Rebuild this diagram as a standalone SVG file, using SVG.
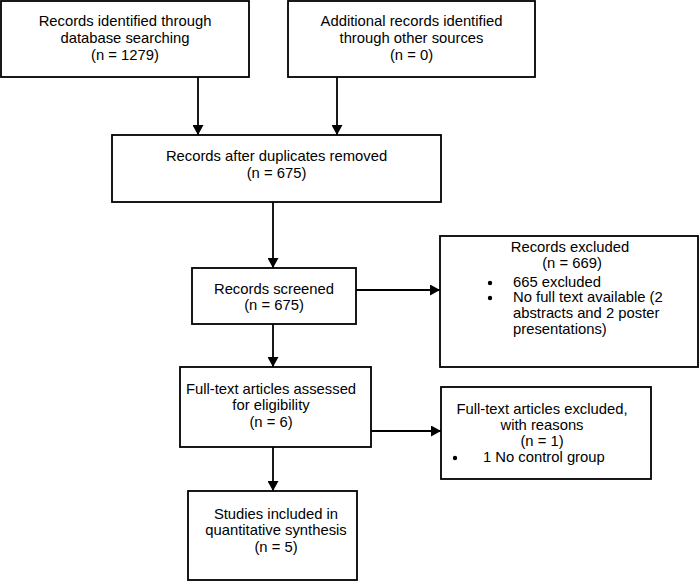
<svg xmlns="http://www.w3.org/2000/svg" width="700" height="582" viewBox="0 0 700 582">
<style>
.box{fill:#fff;stroke:#000;stroke-width:1.8}
text{font-family:"Liberation Sans",Arial,sans-serif;font-size:14.8px;fill:#000}
.c{text-anchor:middle}
.ln{stroke:#000;stroke-width:1.8;fill:none}
</style>
<defs>
<marker id="ah" markerWidth="10" markerHeight="11" refX="10" refY="5.5" orient="auto" markerUnits="userSpaceOnUse">
<path d="M0,0 L10,5.5 L0,11 Z" fill="#000"/>
</marker>
</defs>
<rect width="700" height="582" fill="#fff"/>
<g id="connectors">
<line class="ln" x1="198" y1="77" x2="198" y2="135" marker-end="url(#ah)"/>
<line class="ln" x1="337" y1="77" x2="337" y2="135" marker-end="url(#ah)"/>
<line class="ln" x1="273" y1="202" x2="273" y2="268" marker-end="url(#ah)"/>
<line class="ln" x1="356" y1="290" x2="440" y2="290" marker-end="url(#ah)"/>
<line class="ln" x1="273" y1="324" x2="273" y2="367" marker-end="url(#ah)"/>
<line class="ln" x1="371" y1="431" x2="441" y2="431" marker-end="url(#ah)"/>
<line class="ln" x1="273" y1="447" x2="273" y2="491" marker-end="url(#ah)"/>
</g>
<g id="n1">
<rect class="box" x="1" y="1" width="248" height="76"/>
<text class="c" x="125" y="26">Records identified through</text>
<text class="c" x="125" y="43">database searching</text>
<text class="c" x="125" y="60">(n = 1279)</text>
</g>
<g id="n2">
<rect class="box" x="288" y="1" width="247" height="76"/>
<text class="c" x="411.5" y="26">Additional records identified</text>
<text class="c" x="411.5" y="43">through other sources</text>
<text class="c" x="411.5" y="60">(n = 0)</text>
</g>
<g id="n3">
<rect class="box" x="112" y="135" width="329" height="67"/>
<text class="c" x="276.5" y="161">Records after duplicates removed</text>
<text class="c" x="276.5" y="178">(n = 675)</text>
</g>
<g id="n4">
<rect class="box" x="192" y="268" width="164" height="56"/>
<text class="c" x="274" y="294">Records screened</text>
<text class="c" x="274" y="310">(n = 675)</text>
</g>
<g id="n5">
<rect class="box" x="440" y="236" width="258" height="131"/>
<text class="c" x="570" y="252">Records excluded</text>
<text class="c" x="572" y="268">(n = 669)</text>
<circle cx="490" cy="283" r="2.2" fill="#000"/>
<text x="513" y="287">665 excluded</text>
<circle cx="490" cy="298" r="2.2" fill="#000"/>
<text x="513" y="302">No full text available (2</text>
<text x="513" y="318">abstracts and 2 poster</text>
<text x="513" y="334">presentations)</text>
</g>
<g id="n6">
<rect class="box" x="180" y="367" width="191" height="80"/>
<text class="c" x="271" y="394">Full-text articles assessed</text>
<text class="c" x="271" y="410">for eligibility</text>
<text class="c" x="271" y="427">(n = 6)</text>
</g>
<g id="n7">
<rect class="box" x="441" y="387" width="210" height="92"/>
<text class="c" x="542" y="414">Full-text articles excluded,</text>
<text class="c" x="542" y="430">with reasons</text>
<text class="c" x="542" y="446">(n = 1)</text>
<circle cx="455" cy="458" r="2.2" fill="#000"/>
<text x="483" y="462">1 No control group</text>
</g>
<g id="n8">
<rect class="box" x="188" y="491" width="169" height="89"/>
<text class="c" x="276" y="519">Studies included in</text>
<text class="c" x="276" y="535">quantitative synthesis</text>
<text class="c" x="276" y="552">(n = 5)</text>
</g>
</svg>
